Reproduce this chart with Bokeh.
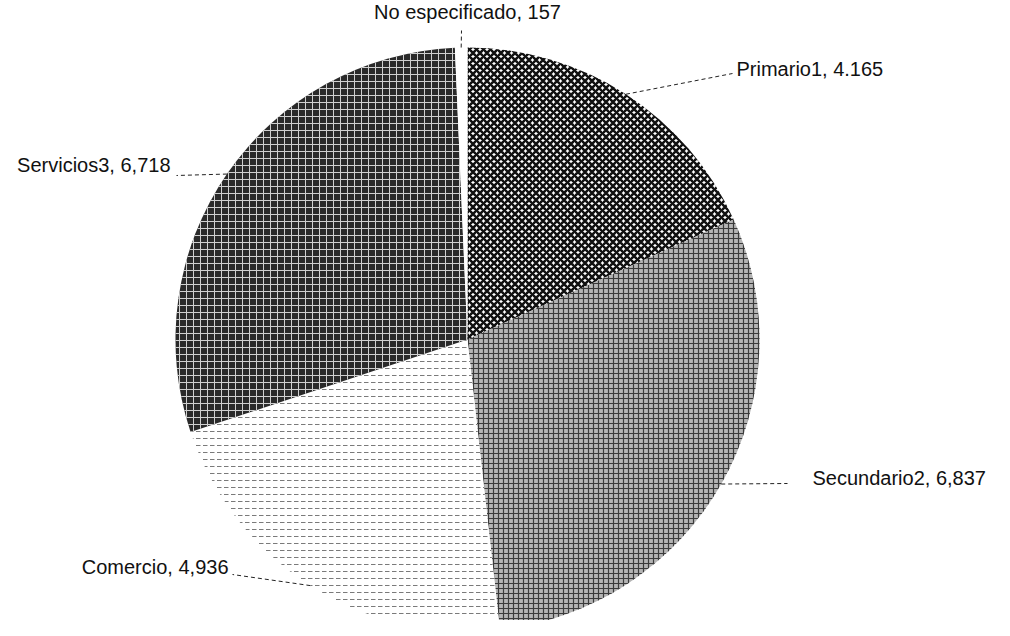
import numpy as np
from bokeh.plotting import figure
from bokeh.models import ColumnDataSource, Range1d
from bokeh.core.properties import value
from bokeh.embed import file_html
from bokeh.resources import INLINE

# ---- data (clockwise from 12 o'clock) ----
categories = ["Primario1", "Secundario2", "Comercio", "Servicios3", "No especificado"]
values = [4165, 6837, 4936, 6718, 157]
value_labels = ["4.165", "6,837", "4,936", "6,718", "157"]

# ---- layout / style (image pixel coordinates) ----
W, H = 1010, 636
cx_img, cy_img, R = 475, 347, 292
leader_end_img = [(740, 81), (795, 491), (240, 582), (184, 183), (469, 38)]
label_pos_img = [(744, 76), (820, 485), (236, 574), (178, 172), (475, 19)]
label_align = ["left", "left", "right", "right", "center"]
fills = ["white", "#b4b4b4", "white", "#2a2a2a", "white"]
hatches = ["diagonal_cross", "cross", "horizontal_dash", "cross", "blank"]
hatch_colors = ["#111111", "#3a3a3a", "#7a7a7a", "#d0d0d0", "white"]
hatch_weights = [2.6, 1.2, 1.0, 1.0, 1.0]
hatch_scales = [7, 5, 7, 7, 6]


def to_data(xi, yi):
    return xi, H - yi


vals = np.array(values, dtype=float)
frac = vals / vals.sum()
cum = np.concatenate([[0.0], np.cumsum(frac)])
theta1 = cum[:-1] * 360.0  # clockwise from top
theta2 = cum[1:] * 360.0
start_angle = 90.0 - theta2
end_angle = 90.0 - theta1
mid = np.deg2rad((theta1 + theta2) / 2.0)

cx, cy = to_data(cx_img, cy_img)

p = figure(width=W - 16, height=H - 16,
           x_range=Range1d(8, W - 8), y_range=Range1d(8, H - 8),
           output_backend="svg", toolbar_location=None, min_border=0,
           x_axis_location=None, y_axis_location=None)
p.grid.visible = False
p.outline_line_color = None
p.background_fill_color = "white"

wsrc = ColumnDataSource(dict(
    cat=categories, start=start_angle, end=end_angle,
    fill=fills, hatch=hatches, hcol=hatch_colors,
    hw=hatch_weights, hs=hatch_scales,
))
p.wedge(x=cx, y=cy, radius=R, start_angle="start", end_angle="end",
        start_angle_units="deg", end_angle_units="deg", direction="anticlock",
        fill_color="fill", hatch_pattern="hatch", hatch_color="hcol",
        hatch_weight="hw", hatch_scale="hs",
        line_color=None, source=wsrc)

# leader lines from slice mid-edge to label
x0 = cx + R * np.sin(mid)
y0 = cy + R * np.cos(mid)
x1 = [to_data(*e)[0] for e in leader_end_img]
y1 = [to_data(*e)[1] for e in leader_end_img]
p.segment(x0=x0, y0=y0, x1=x1, y1=y1, line_color="#222222",
          line_width=1, line_dash="4 3")

texts = [f"{c}, {v}" for c, v in zip(categories, value_labels)]
for t, pos, al in zip(texts, label_pos_img, label_align):
    lx, ly = to_data(*pos)
    p.text(x=[lx], y=[ly], text=[t], text_align=al, text_baseline="middle",
           text_font=value("Liberation Sans"), text_font_size="20px",
           text_color="#111111")

open("out.html", "w").write(file_html(p, INLINE))
